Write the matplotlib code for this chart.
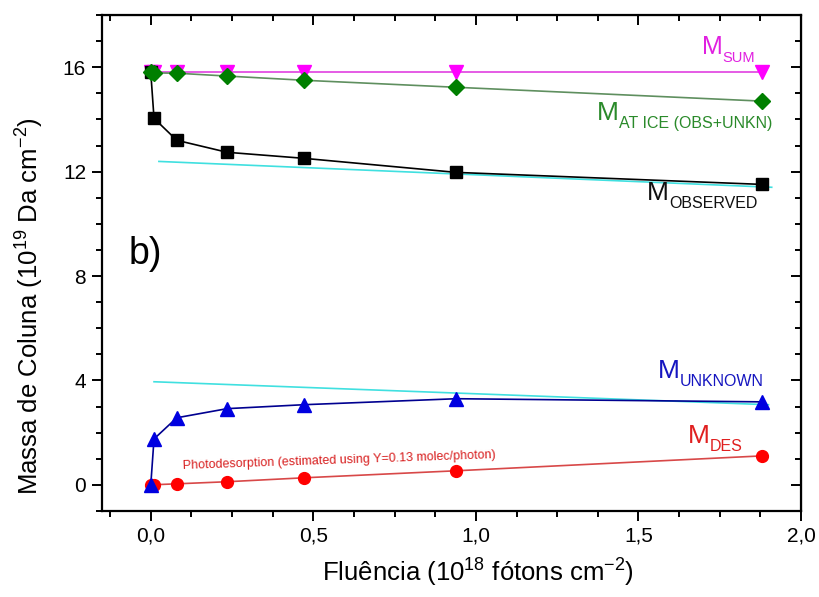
import matplotlib
matplotlib.use("Agg")
import matplotlib.pyplot as plt
from matplotlib.ticker import MultipleLocator, FuncFormatter

plt.rcParams['font.family'] = ['Liberation Sans', 'DejaVu Sans']
plt.rcParams['mathtext.default'] = 'regular'

# fluence (10^18 photons cm^-2)
fluence = [0.0, 0.01, 0.08, 0.235, 0.47, 0.94, 1.88]

# column masses (10^19 Da cm^-2)
m_sum = [15.8, 15.8, 15.8, 15.8, 15.8, 15.8, 15.8]
m_at_ice = [15.8, 15.78, 15.77, 15.66, 15.5, 15.23, 14.7]
m_observed = [15.8, 14.04, 13.2, 12.74, 12.51, 11.97, 11.51]
m_unknown = [0.0, 1.76, 2.57, 2.92, 3.07, 3.3, 3.18]
m_des = [0.0, 0.005, 0.04, 0.12, 0.27, 0.54, 1.11]

# linear fits (end points)
fit_obs_x = [0.025, 1.91]
fit_obs_y = [12.39, 11.40]
fit_unk_x = [0.01, 1.9]
fit_unk_y = [3.95, 3.07]

fig = plt.figure(figsize=(8.2, 5.97), dpi=100)
ax = fig.add_axes([0.1244, 0.1441, 0.8524, 0.8308])

ax.plot(fit_obs_x, fit_obs_y, color='#40e0e0', lw=1.2, zorder=2)
ax.plot(fit_unk_x, fit_unk_y, color='#40e0e0', lw=1.2, zorder=2)

ax.plot(fluence, m_des, color='#d84848', lw=1.2, marker='o', ms=8.5,
        mfc='#ff0000', mec='#ff0000', zorder=3)
ax.plot(fluence, m_unknown, color='#000090', lw=1.2, marker='^', ms=9.5,
        mfc='#0000e0', mec='#0000e0', zorder=4)
ax.plot(fluence, m_observed, color='black', lw=1.2, marker='s', ms=8,
        mfc='black', mec='black', zorder=4)
ax.plot(fluence, m_sum, color='#e040e0', lw=1.2, marker='v', ms=9.5,
        mfc='#ff00ff', mec='#ff00ff', zorder=3)
ax.plot(fluence, m_at_ice, color='#5f8f5f', lw=1.2, marker='D', ms=8,
        mfc='#007f00', mec='#007f00', zorder=5)

ax.set_xlim(-0.15, 2.0)
ax.set_ylim(-1, 18)
ax.xaxis.set_major_locator(MultipleLocator(0.5))
ax.xaxis.set_minor_locator(MultipleLocator(0.125))
ax.yaxis.set_major_locator(MultipleLocator(4))
ax.yaxis.set_minor_locator(MultipleLocator(1))
ax.xaxis.set_major_formatter(FuncFormatter(lambda v, p: f"{v:.1f}".replace('.', ',')))
ax.yaxis.set_major_formatter(FuncFormatter(lambda v, p: f"{v:.0f}"))

for s in ax.spines.values():
    s.set_linewidth(1.6)
ax.tick_params(which='both', direction='out', width=1.4, labelsize=15,
               top=False, right=False)
ax.tick_params(which='major', length=7.5, pad=4)
ax.tick_params(which='minor', length=4)

# mirrored inward ticks on top and right
secx = ax.secondary_xaxis('top')
secx.xaxis.set_major_locator(MultipleLocator(0.5))
secx.xaxis.set_minor_locator(MultipleLocator(0.125))
secx.tick_params(which='both', direction='in', width=1.4, labeltop=False)
secx.tick_params(which='major', length=7.5)
secx.tick_params(which='minor', length=4)
secy = ax.secondary_yaxis('right')
secy.yaxis.set_major_locator(MultipleLocator(4))
secy.yaxis.set_minor_locator(MultipleLocator(1))
secy.tick_params(which='both', direction='in', width=1.4, labelright=False)
secy.tick_params(which='major', length=7.5)
secy.tick_params(which='minor', length=4)

fig.text(0.583, 0.04, "Fluência (10$^{18}$ fótons cm$^{-2}$)", fontsize=18.5,
         ha='center', va='center')
fig.text(0.036, 0.487, "Massa de Coluna (10$^{19}$ Da cm$^{-2}$)", fontsize=18.5,
         ha='center', va='center', rotation=90)


def mlabel(x, y, sub, color, size=19, subsize=11.5):
    ax.text(x, y, "M", color=color, fontsize=size, ha='left', va='baseline')
    ax.annotate(sub, xy=(x, y), xytext=(0.833 * size, -6), textcoords='offset points',
                color=color, fontsize=subsize, ha='left', va='baseline')


mlabel(1.695, 16.5, "SUM", '#e020e0', size=18, subsize=10.5)
mlabel(1.372, 13.99, "AT ICE (OBS+UNKN)", '#2a8a2a')
mlabel(1.527, 10.93, "OBSERVED", '#101010')
mlabel(1.56, 4.11, "UNKNOWN", '#1515c0')
mlabel(1.653, 1.61, "DES", '#e02020')

ax.text(0.1, 0.62, "Photodesorption (estimated using Y=0.13 molec/photon)",
        color='#d82020', fontsize=9, rotation=2, ha='left', va='baseline',
        rotation_mode='anchor')
ax.text(-0.068, 8.45, "b)", fontsize=27, ha='left', va='baseline')

fig.savefig("out.png", dpi=100)
